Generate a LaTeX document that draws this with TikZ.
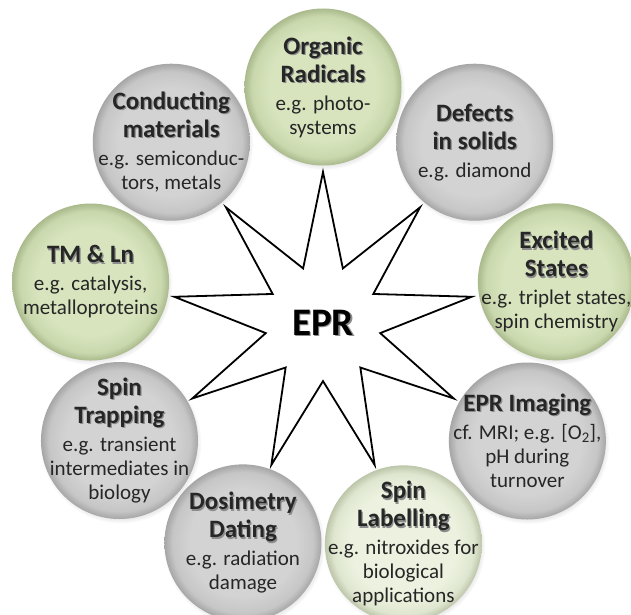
\documentclass[tikz,border=0pt]{standalone}
\usepackage{fontspec}
\setmainfont{Carlito}
\usepackage{tikz}
\usetikzlibrary{shapes.geometric}
\usetikzlibrary{shadows}
\definecolor{gin}{HTML}{D3D3D3}
\definecolor{gmid}{HTML}{C6C6C6}
\definecolor{gout}{HTML}{A6A6A6}
\definecolor{vin}{HTML}{D7E4BD}
\definecolor{vmid}{HTML}{CAD8AE}
\definecolor{vout}{HTML}{AABA8C}
\definecolor{pin}{HTML}{ECF2DF}
\definecolor{pmid}{HTML}{DFE6D0}
\definecolor{pout}{HTML}{BCC6A9}
\pgfdeclareradialshading{gball}{\pgfpoint{0bp}{0bp}}{color(0bp)=(gin); color(17bp)=(gin); color(22.5bp)=(gmid); color(25bp)=(gout); color(50bp)=(gout)}
\pgfdeclareradialshading{vball}{\pgfpoint{0bp}{0bp}}{color(0bp)=(vin); color(17bp)=(vin); color(22.5bp)=(vmid); color(25bp)=(vout); color(50bp)=(vout)}
\pgfdeclareradialshading{pball}{\pgfpoint{0bp}{0bp}}{color(0bp)=(pin); color(17bp)=(pin); color(22.5bp)=(pmid); color(25bp)=(pout); color(50bp)=(pout)}
\newcommand{\shd}[1]{\rlap{\kern1.2pt\raisebox{-1.2pt}{\color{black!45}#1}}#1}
\newcommand{\hd}[1]{{\fontsize{25}{28}\selectfont\bfseries\shd{#1}}}
\tikzset{b/.style={circle,shade,minimum size=157pt,inner sep=-30pt,align=center,
  font=\fontsize{21}{24}\selectfont,text=black!85,
  circular drop shadow={shadow scale=1.03,shadow xshift=1pt,shadow yshift=-2pt,opacity=0.4}}}
\tikzset{g/.style={b,shading=gball}}
\tikzset{v/.style={b,shading=vball}}
\tikzset{p/.style={b,shading=pball}}

\begin{document}
\begin{tikzpicture}
            \useasboundingbox (-323pt,-291pt) rectangle (308pt,323pt);
            \node[star,star points=9,star point ratio=2.6,minimum size=302pt,inner sep=0pt,
              draw,fill=white,line width=1.8pt,font=\fontsize{39}{40}\selectfont\bfseries] (E) at (0,0) {\shd{EPR}};
            \node[v] (R) at (90:236pt) {\hd{Organic}\\[4pt]\hd{Radicals}\\[4pt]e.g. photo-\\systems};
            \node[g] (D) at (50:236pt) {\hd{Defects}\\[4pt]\hd{in solids}\\[4pt]e.g. diamond};
            \node[v] (S) at (10:237pt) {\hd{Excited}\\[4pt]\hd{States}\\[4pt]e.g. triplet states,\\spin chemistry};
            \node[g] (I) at (-30:236pt) {\hd{EPR Imaging}\\[4pt]cf. MRI; e.g. [O\textsubscript{2}],\\pH during\\turnover};
            \node[p] (L) at (-70:235pt) {\hd{Spin}\\[4pt]\hd{Labelling}\\[4pt]e.g. nitroxides for\\biological\\applications};
            \node[g] (Y) at (-110:234pt) {\hd{Dosimetry}\\[4pt]\hd{Dating}\\[4pt]e.g. radiation\\damage};
            \node[g] (T) at (-150:235pt) {\hd{Spin}\\[4pt]\hd{Trapping}\\[4pt]e.g. transient\\intermediates in\\biology};
            \node[v] (M) at (170:236pt) {\hd{TM \& Ln}\\[4pt]e.g. catalysis,\\metalloproteins};
            \node[g] (C) at (130:236pt) {\hd{Conducting}\\[4pt]\hd{materials}\\[4pt]e.g. semiconduc-\\tors, metals};
          \end{tikzpicture}
\end{document}
